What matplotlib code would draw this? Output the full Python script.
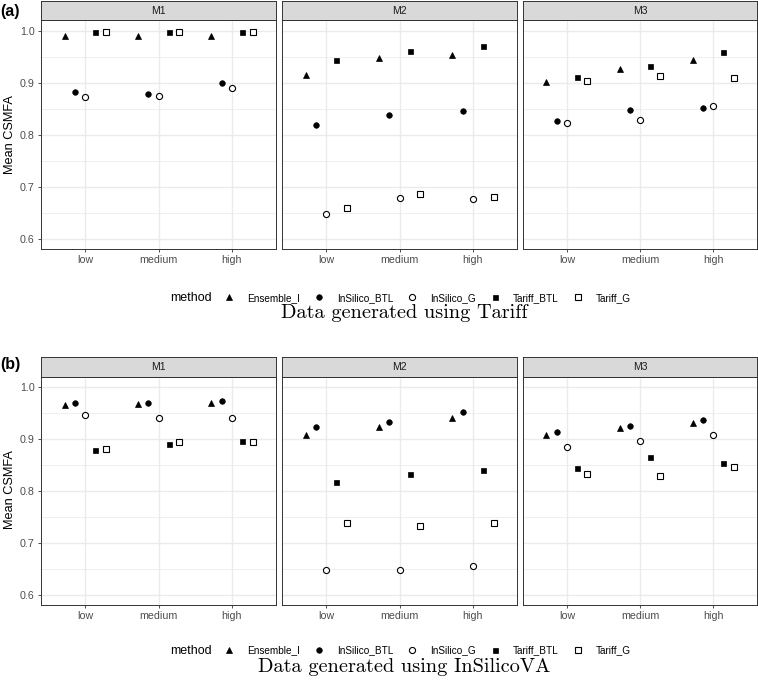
import numpy as np
import matplotlib
matplotlib.use("Agg")
import matplotlib.pyplot as plt
from matplotlib.lines import Line2D

plt.rcParams['font.family'] = ['Liberation Sans', 'DejaVu Sans']

levels = ['low', 'medium', 'high']
methods = ['Ensemble_I', 'InSilico_BTL', 'InSilico_G', 'Tariff_BTL', 'Tariff_G']
facets = ['M1', 'M2', 'M3']

# Panel (a): data generated using Tariff  (rows = methods, cols = low/medium/high)
tariff_M1 = [[0.990, 0.990, 0.990],
             [0.882, 0.879, 0.900],
             [0.872, 0.875, 0.890],
             [0.997, 0.997, 0.997],
             [0.997, 0.997, 0.997]]
tariff_M2 = [[0.916, 0.947, 0.953],
             [0.819, 0.839, 0.846],
             [0.649, 0.679, 0.677],
             [0.943, 0.962, 0.971],
             [0.661, 0.686, 0.682]]
tariff_M3 = [[0.902, 0.926, 0.944],
             [0.826, 0.848, 0.852],
             [0.823, 0.829, 0.855],
             [0.912, 0.933, 0.959],
             [0.903, 0.914, 0.909]]

# Panel (b): data generated using InSilicoVA
insilico_M1 = [[0.965, 0.967, 0.969],
               [0.969, 0.969, 0.974],
               [0.946, 0.940, 0.941],
               [0.879, 0.891, 0.896],
               [0.882, 0.894, 0.895]]
insilico_M2 = [[0.909, 0.923, 0.940],
               [0.924, 0.934, 0.952],
               [0.649, 0.649, 0.656],
               [0.817, 0.834, 0.840],
               [0.740, 0.733, 0.739]]
insilico_M3 = [[0.909, 0.922, 0.932],
               [0.914, 0.926, 0.937],
               [0.885, 0.896, 0.909],
               [0.844, 0.866, 0.854],
               [0.834, 0.829, 0.846]]

panels = [
    ('(a)', 'Data generated using Tariff', [tariff_M1, tariff_M2, tariff_M3]),
    ('(b)', 'Data generated using InSilicoVA', [insilico_M1, insilico_M2, insilico_M3]),
]

yticks = [0.6, 0.7, 0.8, 0.9, 1.0]
yminor = [0.65, 0.75, 0.85, 0.95]

styles = {
    'Ensemble_I': dict(marker='^', ms=4.6, mfc='black', mec='black', mew=0.5),
    'InSilico_BTL': dict(marker='o', ms=4.0, mfc='black', mec='black', mew=0.5),
    'InSilico_G': dict(marker='o', ms=4.4, mfc='white', mec='black', mew=0.8),
    'Tariff_BTL': dict(marker='s', ms=3.6, mfc='black', mec='black', mew=0.5),
    'Tariff_G': dict(marker='s', ms=4.0, mfc='white', mec='black', mew=0.8),
}
dodge = np.linspace(-0.28, 0.28, len(methods))

W, H = 758, 687
fig = plt.figure(figsize=(W / 100, H / 100), dpi=100)

def fx(px):
    return px / W

def fy(py):
    return 1 - py / H

panel_x = [(41, 276), (282, 517), (523, 757)]
# (strip_top, strip_bottom/panel_top, panel_bottom, legend_y, title_y, label_y, ylabel_y)
rows = [(1, 20, 249, 297.7, 313.5, 11.5, 135),
        (357, 376.5, 605, 650.5, 666.5, 364.5, 490)]

ylim = (0.5815, 1.0205)
x = np.arange(1, len(levels) + 1)

for (tag, title, datasets), (st, pt, pb, ly, ty, lab_y, yl_y) in zip(panels, rows):
    for j, (fac, data) in enumerate(zip(facets, datasets)):
        x0, x1 = panel_x[j]
        ax = fig.add_axes([fx(x0), fy(pb), fx(x1 - x0), (pb - pt) / H])
        ax.set_xlim(0.4, 3.6)
        ax.set_ylim(*ylim)
        ax.set_facecolor('white')
        for yv in yminor:
            ax.axhline(yv, color='#EBEBEB', lw=0.55, zorder=0)
        for yv in yticks:
            ax.axhline(yv, color='#EBEBEB', lw=1.0, zorder=0)
        for xv in x:
            ax.axvline(xv, color='#EBEBEB', lw=1.0, zorder=0)
        for k, m in enumerate(methods):
            ax.plot(x + dodge[k], data[k], ls='none', zorder=3, **styles[m])
        ax.set_xticks(x)
        ax.set_xticklabels(levels)
        ax.set_yticks(yticks)
        if j == 0:
            ax.set_yticklabels(['0.6', '0.7', '0.8', '0.9', '1.0'])
            ax.tick_params(axis='y', length=2.5, width=0.6, color='#333333',
                           labelsize=7.7, labelcolor='#4D4D4D', pad=2)
        else:
            ax.tick_params(axis='y', length=0, labelleft=False)
        ax.tick_params(axis='x', length=2.5, width=0.6, color='#333333',
                       labelsize=7.7, labelcolor='#4D4D4D', pad=2)
        for sp in ax.spines.values():
            sp.set_color('#333333')
            sp.set_linewidth(0.7)
        # strip
        sax = fig.add_axes([fx(x0), fy(pt), fx(x1 - x0), (pt - st) / H])
        sax.set_facecolor('#D9D9D9')
        sax.set_xticks([])
        sax.set_yticks([])
        for sp in sax.spines.values():
            sp.set_color('#333333')
            sp.set_linewidth(0.7)
        sax.text(0.5, 0.5, fac, ha='center', va='center', fontsize=7.5,
                 color='#1A1A1A', transform=sax.transAxes)

    fig.text(fx(10.5), fy(yl_y), 'Mean CSMFA', rotation=90, ha='center',
             va='center', fontsize=9.2, color='black')
    fig.text(fx(0), fy(lab_y), tag, ha='left', va='center', fontsize=11.5,
             fontweight='bold')

    # legend
    fig.text(fx(170), fy(ly), 'method', ha='left', va='center', fontsize=9,
             color='black')
    handles = [Line2D([], [], ls='none', **styles[m]) for m in methods]
    fig.legend(handles, methods, loc='center left',
               bbox_to_anchor=(fx(224), fy(ly)), ncol=5, frameon=False,
               fontsize=7.2, handlelength=1.0, handletextpad=1.3,
               columnspacing=1.4, borderpad=0, borderaxespad=0)
    fig.text(fx(404), fy(ty), title, ha='center', va='center', fontsize=14.6,
             family='cmr10')

fig.savefig('out.png', dpi=100)
